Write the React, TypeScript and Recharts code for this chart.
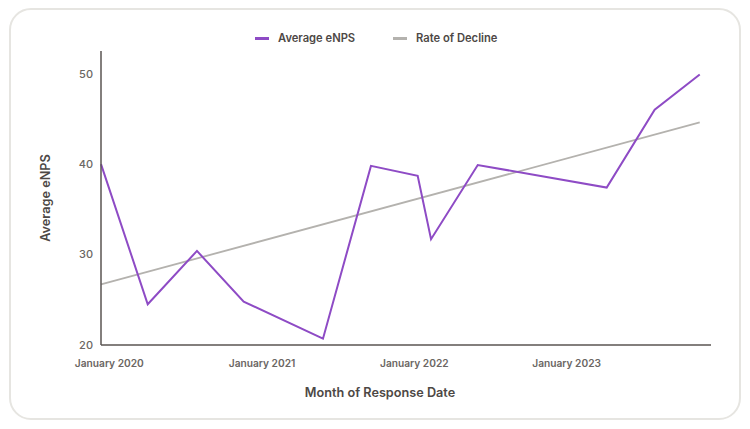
import React from "react";
import { LineChart, Line, XAxis, YAxis, Label } from "recharts";

document.body.style.margin = "0";

// survey months and average eNPS
const responseDates = [
  "2019-12-12",
  "2020-04-02",
  "2020-07-29",
  "2020-11-18",
  "2021-05-27",
  "2021-09-19",
  "2022-01-09",
  "2022-02-10",
  "2022-06-02",
  "2023-04-07",
  "2023-07-31",
  "2023-11-16",
];
const averageEnps = [40, 24.5, 30.4, 24.8, 20.7, 39.8, 38.7, 31.7, 39.9, 37.4, 46, 49.9];

// trend line end points
const trendDates = ["2019-12-12", "2023-11-16"];
const trendValues = [26.7, 44.6];

const xDomainDates = ["2019-12-12", "2023-12-13"];
const xTickDates = ["2020-01-01", "2021-01-01", "2022-01-01", "2023-01-01"];
const xTickLabels = ["January 2020", "January 2021", "January 2022", "January 2023"];
const yTicks = [20, 30, 40, 50];

const PURPLE = "#8e4bc5";
const GRAY = "#b4b2ae";
const AXIS = "#5a5552";
const TEXT = "#4d4845";

const toTime = (d: string) => new Date(d + "T00:00:00Z").getTime();

const enpsData = responseDates.map((d, i) => ({ t: toTime(d), enps: averageEnps[i] }));
const trendData = trendDates.map((d, i) => ({ t: toTime(d), trend: trendValues[i] }));
const xTicks = xTickDates.map(toTime);

const legendItems = [
  { name: "Average eNPS", color: PURPLE, left: 255 },
  { name: "Rate of Decline", color: GRAY, left: 393 },
];

function ChartLegend() {
  return (
    <>
      {legendItems.map((item) => (
        <div
          key={item.name}
          style={{
            position: "absolute",
            left: item.left,
            top: 30,
            height: 16,
            display: "flex",
            alignItems: "center",
            fontFamily: "Inter",
            fontSize: 11.2,
            fontWeight: 600,
            color: TEXT,
            whiteSpace: "nowrap",
          }}
        >
          <span style={{ display: "inline-block", width: 14, height: 3, background: item.color, marginRight: 9 }} />
          {item.name}
        </div>
      ))}
    </>
  );
}

export default function App() {
  return (
    <div style={{ position: "relative", width: 750, height: 429, background: "#fff", fontFamily: "Inter" }}>
      <div
        style={{
          position: "absolute",
          left: 9,
          top: 8,
          width: 728,
          height: 408,
          border: "2px solid #e6e5e1",
          borderRadius: 22,
        }}
      />
      <ChartLegend />
      <LineChart
        width={750}
        height={429}
        margin={{ top: 51, right: 39, bottom: 0, left: 51 }}
        style={{ position: "absolute", left: 0, top: 0 }}
      >
        <XAxis
          dataKey="t"
          type="number"
          scale="time"
          domain={xDomainDates.map(toTime)}
          ticks={xTicks}
          tickFormatter={(v: number) => xTickLabels[xTicks.indexOf(v)]}
          tickLine={false}
          tickSize={6}
          tickMargin={9}
          allowDuplicatedCategory={false}
          stroke={AXIS}
          strokeWidth={1.5}
          tick={{ fill: "#6b6663", fontSize: 10.2, fontWeight: 600 }}
          height={84}
        >
          <Label
            value="Month of Response Date"
            position="insideTop"
            offset={43}
            dx={-26}
            style={{ fill: TEXT, fontSize: 12.7, fontWeight: 600 }}
          />
        </XAxis>
        <YAxis
          type="number"
          domain={[20, 52.5]}
          ticks={yTicks}
          tickLine={false}
          width={50}
          stroke={AXIS}
          strokeWidth={1.5}
          tick={{ fill: "#6b6663", fontSize: 11, fontWeight: 500 }}
        >
          <Label
            value="Average eNPS"
            angle={-90}
            position="insideLeft"
            offset={-6}
            style={{ fill: TEXT, fontSize: 12.7, fontWeight: 600, textAnchor: "middle" }}
          />
        </YAxis>
        <Line
          data={trendData}
          dataKey="trend"
          name="Rate of Decline"
          stroke={GRAY}
          strokeWidth={1.8}
          dot={false}
          activeDot={false}
          isAnimationActive={false}
        />
        <Line
          data={enpsData}
          dataKey="enps"
          name="Average eNPS"
          stroke={PURPLE}
          strokeWidth={2}
          dot={false}
          activeDot={false}
          isAnimationActive={false}
        />
      </LineChart>
    </div>
  );
}
